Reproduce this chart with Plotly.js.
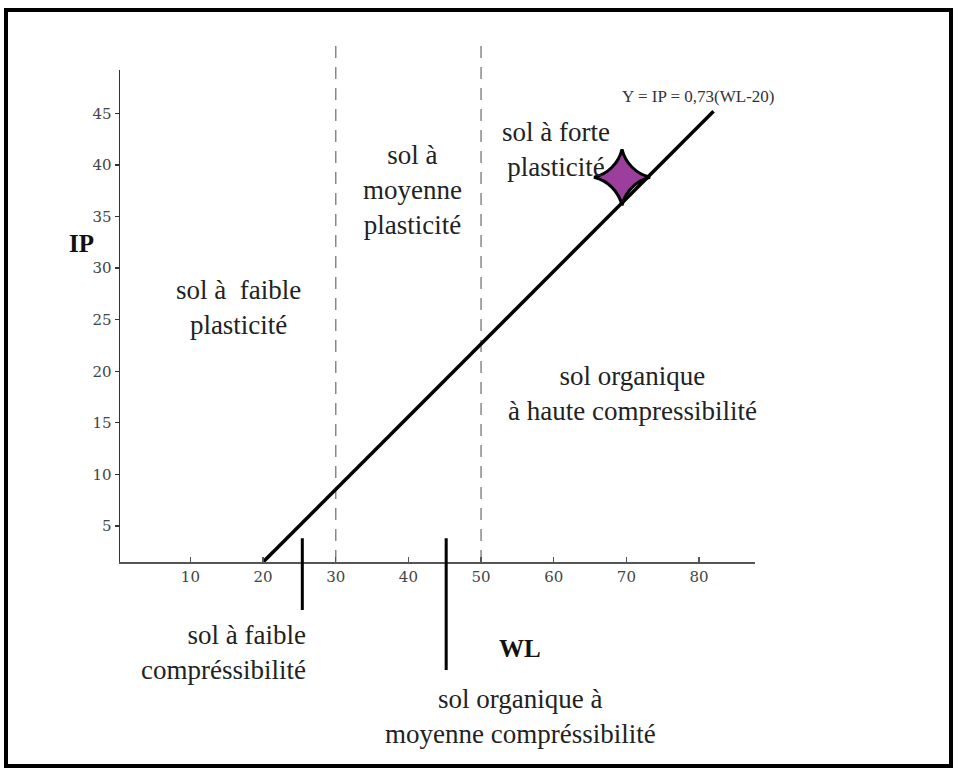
<!DOCTYPE html>
<html>
<head>
<meta charset="utf-8">
<script src="https://cdn.plot.ly/plotly-3.0.1.min.js"></script>
<style>
  html, body { margin: 0; padding: 0; background: #ffffff; }
  #chart { width: 958px; height: 772px; }
  #frame { position: absolute; left: 4px; top: 8px; width: 949px; height: 760px; border: 4px solid #000; box-sizing: border-box; pointer-events: none; }
</style>
</head>
<body>
<div id="chart"></div>
<div id="frame"></div>
<script>
// ---- data ----
const xTicks = [10, 20, 30, 40, 50, 60, 70, 80];
const yTicks = [5, 10, 15, 20, 25, 30, 35, 40, 45];
const lineWL = [20, 82];          // Y = IP = 0,73(WL-20)
const lineIP = [1.5, 45.2];
const sampleWL = [69.4];          // star point
const sampleIP = [38.8];
const plasticityLimits = [30, 50];   // dashed boundaries (WL)
const compressLimits = [25.4, 45.2]; // solid markers below the axis (WL)

const serif = 'Liberation Serif, Times New Roman, serif';
const tickFont = {family: 'DejaVu Serif, serif', size: 15, color: '#444'};
const labelFont = {family: serif, size: 27, color: '#222'};

const traces = [
  {
    x: lineWL, y: lineIP, mode: 'lines', type: 'scatter',
    line: {color: '#000', width: 3.5}, hoverinfo: 'skip', showlegend: false
  },
  {
    x: sampleWL, y: sampleIP, mode: 'markers', type: 'scatter',
    marker: {symbol: 'star-diamond', size: 40, color: '#9c3f9c', line: {color: '#000', width: 3}},
    cliponaxis: false, hoverinfo: 'skip', showlegend: false
  }
];

const shapes = plasticityLimits.map(v => ({
  type: 'line', xref: 'x', yref: 'paper', x0: v, x1: v, y0: 0, y1: 1.057,
  line: {color: '#888', width: 1.5, dash: '12px,9px'}, layer: 'below'
}));

function label(x, y, xref, yref, text, font, extra) {
  return Object.assign({x: x, y: y, xref: xref, yref: yref, text: text, showarrow: false,
    font: font, xanchor: 'center', yanchor: 'middle', align: 'center'}, extra || {});
}

const annotations = [
  label(16.55, 26.2, 'x', 'y', 'sol à  faible<br>plasticité', labelFont),
  label(40.5, 37.6, 'x', 'y', 'sol à<br>moyenne<br>plasticité', labelFont),
  label(60.3, 41.5, 'x', 'y', 'sol à forte<br>plasticité', labelFont),
  label(70.9, 17.8, 'x', 'y', 'sol organique<br>à haute compressibilité', labelFont),
  label(79.9, 46.6, 'x', 'y', 'Y = IP = 0,73(WL-20)', {family: serif, size: 17, color: '#333'}),
  label(-0.06, 32.4, 'paper', 'y', '<b>IP</b>', {family: serif, size: 25, color: '#111'}),
  label(55.4, -0.175, 'x', 'paper', '<b>WL</b>', {family: serif, size: 25, color: '#111'}),
  label(26.2, -0.183, 'x', 'paper', 'sol à faible<br>compréssibilité', labelFont, {xanchor: 'right', align: 'right'}),
  label(55.4, -0.315, 'x', 'paper', 'sol organique à<br>moyenne compréssibilité', labelFont),
  // solid markers crossing the WL axis
  {x: compressLimits[0], y: 3.8, xref: 'x', yref: 'y', axref: 'x', ayref: 'y', ax: compressLimits[0], ay: -3.3,
   text: '', showarrow: true, arrowhead: 0, arrowwidth: 3, arrowcolor: '#000', standoff: 0, startstandoff: 0},
  {x: compressLimits[1], y: 3.8, xref: 'x', yref: 'y', axref: 'x', ayref: 'y', ax: compressLimits[1], ay: -9.1,
   text: '', showarrow: true, arrowhead: 0, arrowwidth: 3, arrowcolor: '#000', standoff: 0, startstandoff: 0}
];

const layout = {
  width: 958, height: 772,
  margin: {l: 120, r: 203, t: 70, b: 210},
  paper_bgcolor: '#fff', plot_bgcolor: '#fff',
  showlegend: false,
  xaxis: {
    range: [0.31, 87.7], tickvals: xTicks, ticktext: xTicks.map(String),
    showgrid: false, zeroline: false, showline: true, linecolor: '#555', linewidth: 2,
    ticks: 'inside', ticklen: 5, tickcolor: '#555', tickwidth: 1.5, tickfont: tickFont
  },
  yaxis: {
    range: [1.51, 49.2], tickvals: yTicks, ticktext: yTicks.map(String),
    showgrid: false, zeroline: false, showline: true, linecolor: '#333', linewidth: 1.5,
    ticks: 'outside', ticklen: 4, tickcolor: '#333', tickwidth: 1.2, tickfont: tickFont
  },
  shapes: shapes,
  annotations: annotations
};

Plotly.newPlot('chart', traces, layout, {displayModeBar: false, staticPlot: true});
</script>
</body>
</html>
